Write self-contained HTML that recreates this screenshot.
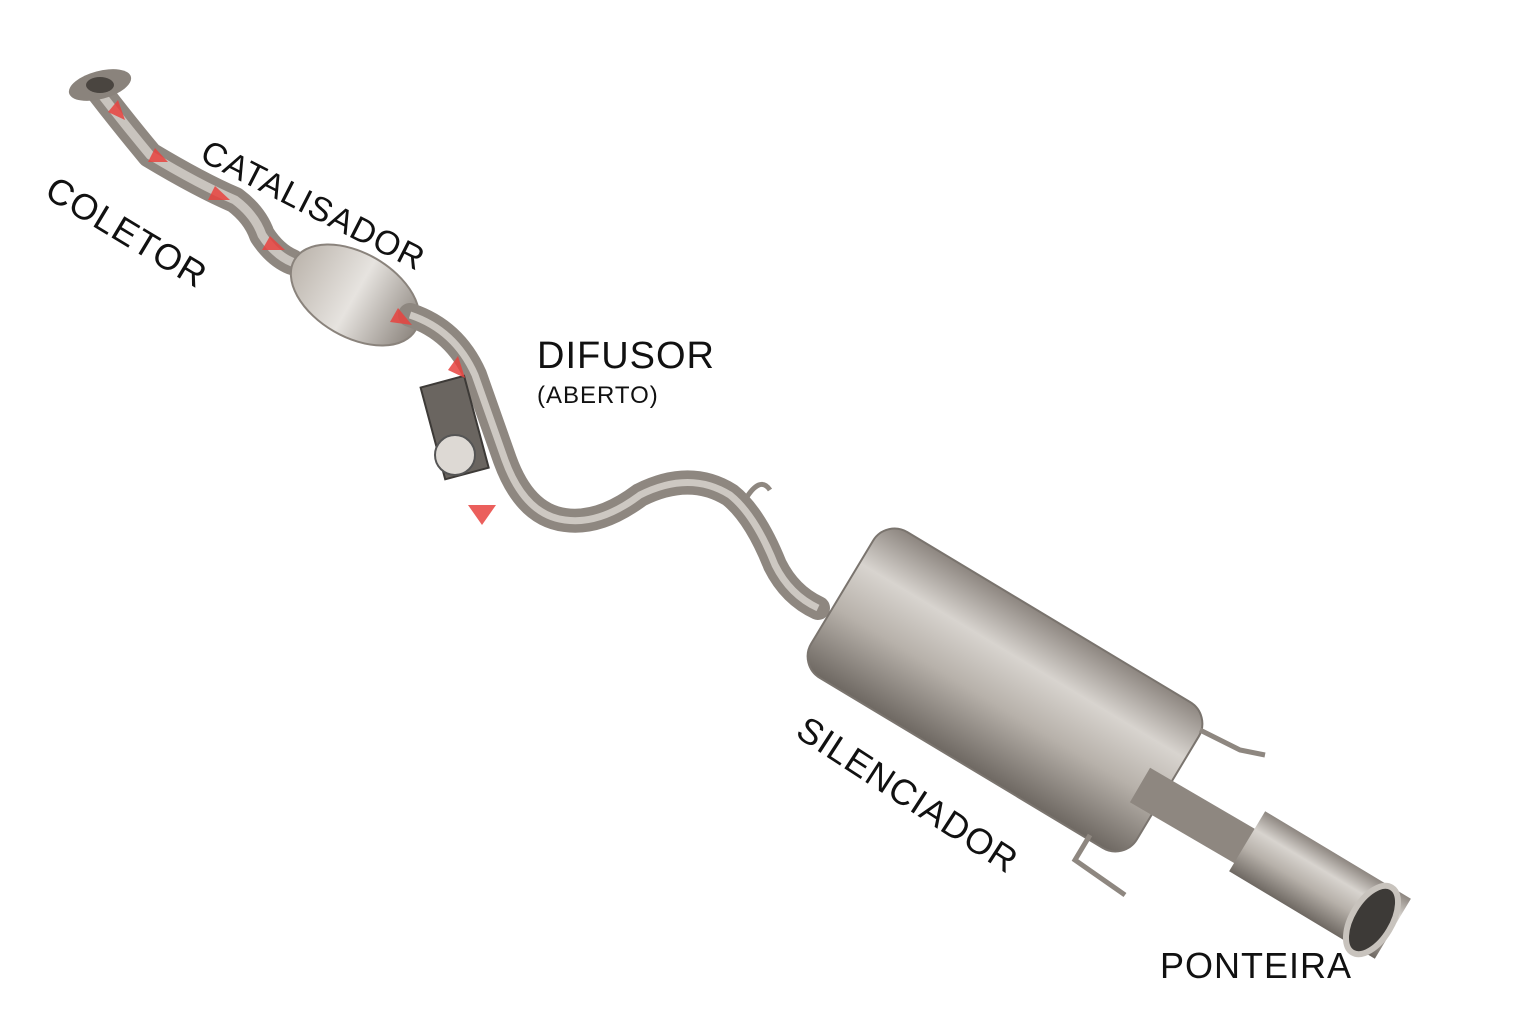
<!DOCTYPE html>
<html><head><meta charset="utf-8"><style>
html,body{margin:0;padding:0;background:#fff}
body{width:1536px;height:1024px;position:relative;overflow:hidden;font-family:"Liberation Sans",sans-serif}
.l{position:absolute;color:#111;white-space:nowrap;transform-origin:0 0;letter-spacing:1px}
</style></head><body>
<svg width="1536" height="1024" style="position:absolute;left:0;top:0">
<defs>
<linearGradient id="m" x1="0" y1="0" x2="0" y2="1">
<stop offset="0" stop-color="#8d8680"/><stop offset="0.3" stop-color="#d8d4cf"/><stop offset="0.6" stop-color="#b7b1aa"/><stop offset="1" stop-color="#6e6862"/></linearGradient>
<linearGradient id="c" x1="0" y1="0" x2="1" y2="0">
<stop offset="0" stop-color="#bdb6ae"/><stop offset="0.5" stop-color="#e6e3df"/><stop offset="1" stop-color="#8f8881"/></linearGradient>
</defs>
<!-- front pipe -->
<path d="M98,90 Q125,125 150,155 Q200,185 235,200 Q255,215 262,235 Q275,255 292,262" fill="none" stroke="#8e8780" stroke-width="26" stroke-linecap="round" stroke-linejoin="round"/>
<path d="M98,90 Q125,125 150,155 Q200,185 235,200 Q255,215 262,235 Q275,255 292,262" fill="none" stroke="#c9c4be" stroke-width="9" stroke-linecap="round"/>
<ellipse cx="100" cy="85" rx="32" ry="14" fill="#8a837c" transform="rotate(-15 100 85)"/>
<ellipse cx="100" cy="85" rx="14" ry="8" fill="#4a4540"/>
<!-- catalyst -->
<ellipse cx="355" cy="295" rx="70" ry="42" fill="url(#c)" stroke="#8a837c" stroke-width="2" transform="rotate(30 355 295)"/>
<!-- mid pipe -->
<path d="M410,315 Q455,330 475,375 L505,460 Q525,515 565,520 Q600,525 640,495 Q690,470 730,495 Q755,515 775,565 Q790,595 818,608" fill="none" stroke="#8e8780" stroke-width="24" stroke-linejoin="round" stroke-linecap="round"/>
<path d="M410,315 Q455,330 475,375 L505,460 Q525,515 565,520 Q600,525 640,495 Q690,470 730,495 Q755,515 775,565 Q790,595 818,608" fill="none" stroke="#cdc8c2" stroke-width="7"/>
<path d="M745,500 q15,-25 25,-10" fill="none" stroke="#8e8780" stroke-width="5"/>
<!-- diffuser box -->
<rect x="432" y="380" width="45" height="95" fill="#6a6560" stroke="#3d3a37" stroke-width="2" transform="rotate(-15 455 427)"/>
<circle cx="455" cy="455" r="20" fill="#ddd9d4" stroke="#555" stroke-width="2"/>
<!-- red arrows -->
<g fill="#e8433f" opacity="0.85">
<polygon points="125,120 108,112 118,100"/><polygon points="168,162 148,162 155,148"/>
<polygon points="230,200 208,200 215,186"/><polygon points="285,250 262,250 270,236"/>
<polygon points="412,325 390,322 398,308"/><polygon points="465,378 448,370 458,356"/>
<polygon points="468,505 496,505 482,525"/>
</g>
<!-- muffler -->
<g transform="rotate(31 1005 690)">
<rect x="815" y="605" width="380" height="170" rx="25" fill="url(#m)" stroke="#7a746e" stroke-width="2"/>
</g>
<path d="M1200,730 l40,20 l25,5" fill="none" stroke="#8e8780" stroke-width="5"/>
<path d="M1090,835 l-15,25 l50,35" fill="none" stroke="#8e8780" stroke-width="5"/>
<!-- tail pipe -->
<path d="M1140,785 L1260,855" stroke="#8e8780" stroke-width="40"/>
<g transform="rotate(31 1320 885)">
<rect x="1235" y="850" width="170" height="70" fill="url(#m)"/>
</g>
<ellipse cx="1372" cy="920" rx="20" ry="38" fill="#3d3a37" stroke="#c8c3bd" stroke-width="6" transform="rotate(31 1372 920)"/>
</svg>
<div class="l" style="left:60px;top:168px;font-size:36px;transform:rotate(31deg)">COLETOR</div>
<div class="l" style="left:212px;top:133px;font-size:34px;transform:rotate(27deg)">CATALISADOR</div>
<div class="l" style="left:537px;top:335px;font-size:38px">DIFUSOR</div>
<div class="l" style="left:537px;top:382px;font-size:24px">(ABERTO)</div>
<div class="l" style="left:812px;top:708px;font-size:36px;transform:rotate(33deg)">SILENCIADOR</div>
<div class="l" style="left:1160px;top:945px;font-size:36px">PONTEIRA</div>
</body></html>
